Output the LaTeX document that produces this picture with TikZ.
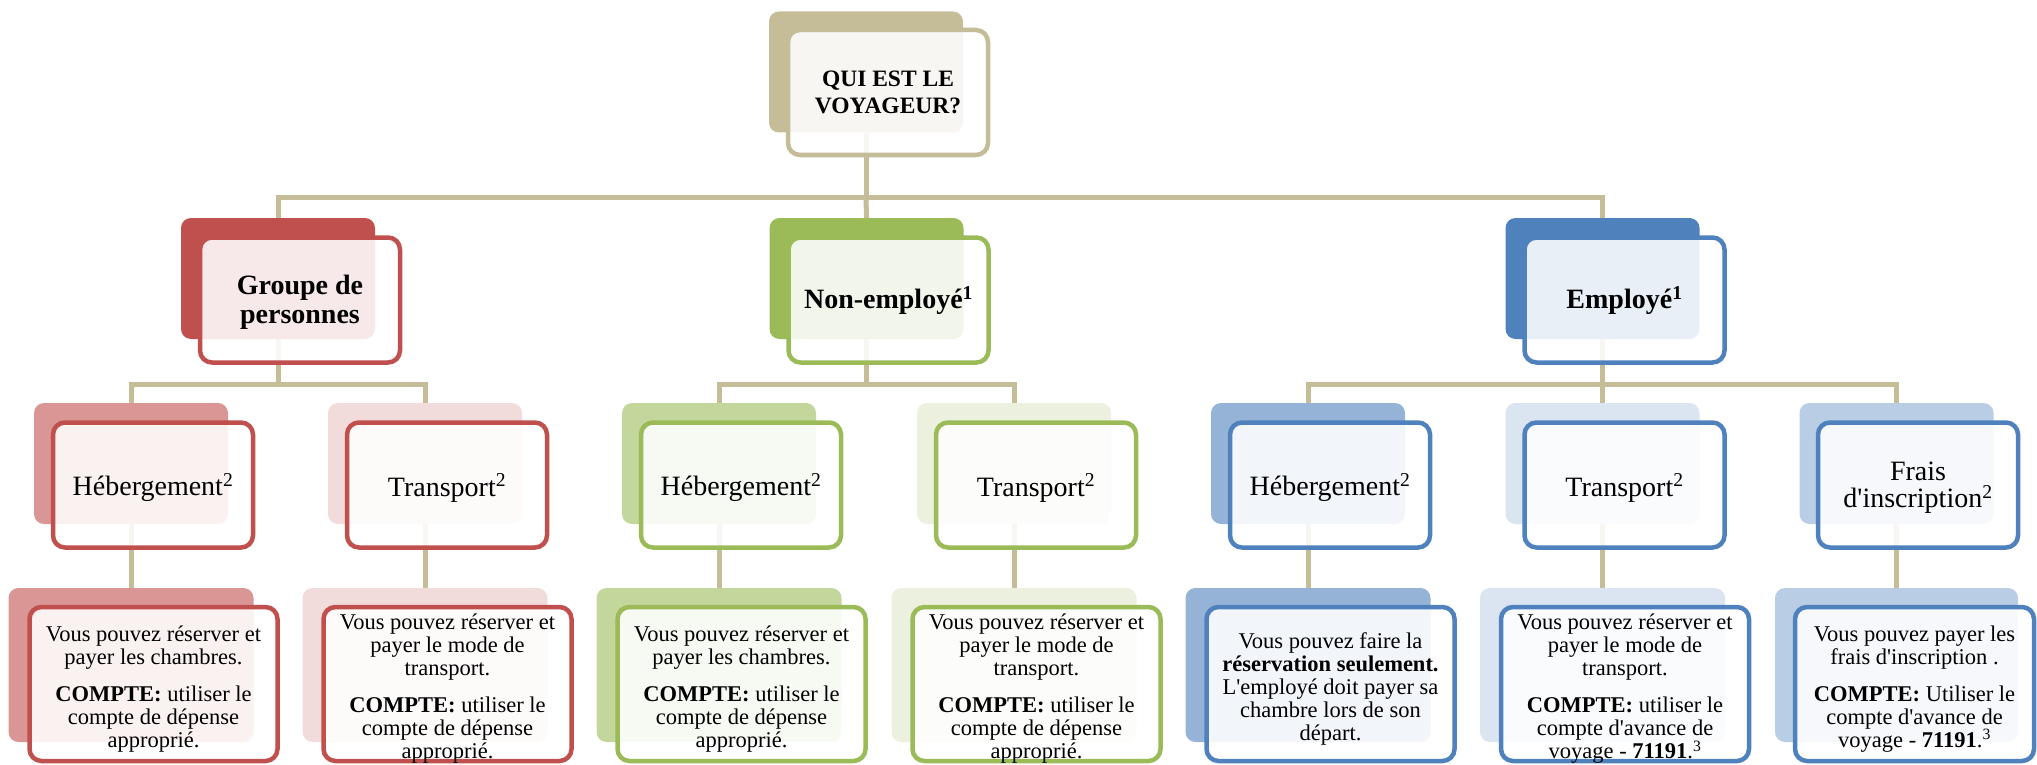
\documentclass[tikz,border=0pt]{standalone}
\usepackage{fontspec}
\setmainfont{Liberation Serif}[Ligatures=TeXOff]
\usetikzlibrary{backgrounds}
\definecolor{tan}{HTML}{C4BD97}
\definecolor{red1}{HTML}{C0504D}
\definecolor{red2}{HTML}{D99694}
\definecolor{red3}{HTML}{F2DCDB}
\definecolor{grn1}{HTML}{9BBB59}
\definecolor{grn2}{HTML}{C3D69B}
\definecolor{grn3}{HTML}{EBF1DE}
\definecolor{blu1}{HTML}{4F81BD}
\definecolor{blu2}{HTML}{95B3D7}
\definecolor{blu3}{HTML}{DBE5F1}
\definecolor{blu4}{HTML}{B9CDE5}
\tikzset{
  bk/.style={rectangle, rounded corners=10pt, inner sep=0pt, minimum width=194pt, minimum height=121pt, fill=#1},
  fr/.style={rectangle, rounded corners=12pt, inner sep=0pt, line width=4.5pt, draw=#1, fill=white, fill opacity=0.88, minimum width=200pt, minimum height=125pt},
  bkiii/.style={bk=#1, minimum width=245pt, minimum height=154pt},
  friii/.style={fr=#1, minimum width=248pt, minimum height=154pt},
  conn/.style={draw=tan, line width=5pt},
  txt/.style={inner sep=0pt, align=center},
  tzero/.style={txt, font=\fontsize{23.5}{27}\selectfont\bfseries},
  tone/.style={txt, font=\fontsize{28}{29}\selectfont\bfseries},
  ttwo/.style={txt, font=\fontsize{28}{27}\selectfont},
  tthree/.style={txt, font=\fontsize{22.5}{23}\selectfont},
}
\newcommand\pgap{\\[14pt]}
\begin{document}
\begin{tikzpicture}[x=1pt,y=-1pt]
\useasboundingbox (0,0) rectangle (2037,765);
% ---------- top
\node[bk=tan] (top-b) at (866,72) {};
\node[fr=tan] (top) at (888,92.5) {};
% ---------- level 1
\node[bk=red1] (grp-b) at (278,278.5) {};
\node[fr=red1] (grp) at (300,300) {};
\node[bk=grn1] (non-b) at (866.5,278.5) {};
\node[fr=grn1] (non) at (888.5,300) {};
\node[bk=blu1] (emp-b) at (1602.5,278.5) {};
\node[fr=blu1] (emp) at (1624.5,300) {};
% ---------- level 2
\node[bk=red2] (gh-b) at (131,463.5) {};
\node[fr=red1] (gh) at (153,485) {};
\node[bk=red3] (gt-b) at (425,463.5) {};
\node[fr=red1] (gt) at (447,485) {};
\node[bk=grn2] (nh-b) at (719,463.5) {};
\node[fr=grn1] (nh) at (741,485) {};
\node[bk=grn3] (nt-b) at (1014,463.5) {};
\node[fr=grn1] (nt) at (1036,485) {};
\node[bk=blu2] (eh-b) at (1308,463.5) {};
\node[fr=blu1] (eh) at (1330,485) {};
\node[bk=blu3] (et-b) at (1602.5,463.5) {};
\node[fr=blu1] (et) at (1624.5,485) {};
\node[bk=blu4] (ef-b) at (1896.5,463.5) {};
\node[fr=blu1] (ef) at (1918,485) {};
% ---------- level 3
\node[bkiii=red2] (gh3-b) at (131,665) {};
\node[friii=red1] (gh3) at (153.5,684) {};
\node[bkiii=red3] (gt3-b) at (425,665) {};
\node[friii=red1] (gt3) at (447.5,684) {};
\node[bkiii=grn2] (nh3-b) at (719,665) {};
\node[friii=grn1] (nh3) at (741.5,684) {};
\node[bkiii=grn3] (nt3-b) at (1014,665) {};
\node[friii=grn1] (nt3) at (1036.5,684) {};
\node[bkiii=blu2] (eh3-b) at (1308,665) {};
\node[friii=blu1] (eh3) at (1330.5,684) {};
\node[bkiii=blu3] (et3-b) at (1602.5,665) {};
\node[friii=blu1] (et3) at (1625,684) {};
\node[bkiii=blu4, minimum width=243pt] (ef3-b) at (1896.5,665) {};
\node[friii=blu1, minimum width=239pt] (ef3) at (1914.5,684) {};
% ---------- texts
\node[tzero] (top-t) at (top.center) {QUI EST LE\\VOYAGEUR?};
\node[tone] (grp-t) at ([yshift=-2pt]grp.center) {Groupe de\\personnes};
\node[tone] (non-t) at ([yshift=-1pt]non.center) {Non-employé\textsuperscript{1}};
\node[tone] (emp-t) at ([yshift=-1pt]emp.center) {Employé\textsuperscript{1}};
\node[ttwo] (gh-t) at ([yshift=-3pt]gh.center) {Hébergement\textsuperscript{2}};
\node[ttwo] (gt-t) at ([yshift=-3pt]gt.center) {Transport\textsuperscript{2}};
\node[ttwo] (nh-t) at ([yshift=-3pt]nh.center) {Hébergement\textsuperscript{2}};
\node[ttwo] (nt-t) at ([yshift=-3pt]nt.center) {Transport\textsuperscript{2}};
\node[ttwo] (eh-t) at ([yshift=-3pt]eh.center) {Hébergement\textsuperscript{2}};
\node[ttwo] (et-t) at ([yshift=-3pt]et.center) {Transport\textsuperscript{2}};
\node[ttwo] (ef-t) at ([yshift=-3pt]ef.center) {Frais\\d'inscription\textsuperscript{2}};
\node[tthree] (gh3-t) at ([yshift=-5pt]gh3.center) {Vous pouvez réserver et\\payer les chambres.\pgap\textbf{COMPTE:} utiliser le\\compte de dépense\\approprié.};
\node[tthree] (gt3-t) at ([yshift=-5pt]gt3.center) {Vous pouvez réserver et\\payer le mode de\\transport.\pgap\textbf{COMPTE:} utiliser le\\compte de dépense\\approprié.};
\node[tthree] (nh3-t) at ([yshift=-5pt]nh3.center) {Vous pouvez réserver et\\payer les chambres.\pgap\textbf{COMPTE:} utiliser le\\compte de dépense\\approprié.};
\node[tthree] (nt3-t) at ([yshift=-5pt]nt3.center) {Vous pouvez réserver et\\payer le mode de\\transport.\pgap\textbf{COMPTE:} utiliser le\\compte de dépense\\approprié.};
\node[tthree] (eh3-t) at ([yshift=-5pt]eh3.center) {Vous pouvez faire la\\\textbf{réservation seulement.}\\L'employé doit payer sa\\chambre lors de son\\départ.};
\node[tthree] (et3-t) at ([yshift=-5pt]et3.center) {Vous pouvez réserver et\\payer le mode de\\transport.\pgap\textbf{COMPTE:} utiliser le\\compte d'avance de\\voyage - \textbf{71191}.\textsuperscript{3}};
\node[tthree] (ef3-t) at ([yshift=-5pt]ef3.center) {Vous pouvez payer les\\frais d'inscription .\pgap\textbf{COMPTE:} Utiliser le\\compte d'avance de\\voyage - \textbf{71191}.\textsuperscript{3}};
% ---------- connectors
\coordinate (bus0) at (866,197);
\coordinate (busg) at (278,384);
\coordinate (busn) at (866.5,384);
\coordinate (buse) at (1602.5,384);
\begin{pgfonlayer}{background}
\draw[conn] (top-b.south) -- (bus0);
\draw[conn] (bus0) -| (grp-b.north);
\draw[conn] (bus0) -| (emp-b.north);
\draw[conn] (bus0) -- (non-b.north);
\draw[conn] (grp-b.south) -- (busg);
\draw[conn] (busg) -| (gh-b.north);
\draw[conn] (busg) -| (gt-b.north);
\draw[conn] (non-b.south) -- (busn);
\draw[conn] (busn) -| (nh-b.north);
\draw[conn] (busn) -| (nt-b.north);
\draw[conn] (emp-b.south) -- (buse);
\draw[conn] (buse) -| (eh-b.north);
\draw[conn] (buse) -- (et-b.north);
\draw[conn] (buse) -| (ef-b.north);
\draw[conn] (gh-b.south) -- (gh3-b.north);
\draw[conn] (gt-b.south) -- (gt3-b.north);
\draw[conn] (nh-b.south) -- (nh3-b.north);
\draw[conn] (nt-b.south) -- (nt3-b.north);
\draw[conn] (eh-b.south) -- (eh3-b.north);
\draw[conn] (et-b.south) -- (et3-b.north);
\draw[conn] (ef-b.south) -- (ef3-b.north);
\end{pgfonlayer}
\end{tikzpicture}
\end{document}
